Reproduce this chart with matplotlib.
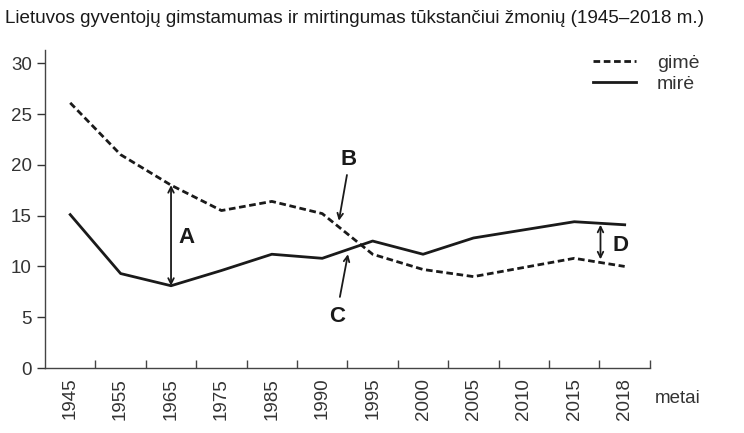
import numpy as np
import matplotlib.pyplot as plt

plt.rcParams['font.family'] = ['Liberation Sans', 'DejaVu Sans']

# Duomenys (tūkstančiui žmonių)
metai = ['1945', '1955', '1965', '1975', '1985', '1990', '1995',
         '2000', '2005', '2010', '2015', '2018']
gime = [26.1, 21.0, 18.0, 15.5, 16.4, 15.2, 11.2, 9.7, 9.0, 9.9, 10.8, 10.0]
mire = [15.1, 9.3, 8.1, 9.6, 11.2, 10.8, 12.5, 11.2, 12.8, 13.6, 14.4, 14.1]

spalva = '#1a1a1a'
x = np.arange(len(metai))

fig = plt.figure(figsize=(7.44, 4.33), dpi=100)
ax = fig.add_axes([0.0605, 0.150, 0.813, 0.7345])

ax.plot(x, gime, color=spalva, lw=2.0, ls=(0, (2.4, 1.3)), label='gimė')
ax.plot(x, mire, color=spalva, lw=2.0, ls='-', label='mirė')

ax.set_xlim(-0.5, len(metai) - 0.5)
ax.set_ylim(0, 31.3)
ax.set_yticks([0, 5, 10, 15, 20, 25, 30])

ax.set_xticks(x)
ax.set_xticklabels(metai, rotation=90)
ax.set_xticks(np.arange(0.5, len(metai), 1.0), minor=True)
ax.tick_params(axis='x', which='major', length=0, pad=7, labelsize=13.5, colors='#333333')
ax.tick_params(axis='x', which='minor', direction='in', length=6, width=1, color='#444444')
ax.tick_params(axis='y', direction='out', length=6, width=1, labelsize=13.5, colors='#333333')

for s in ['top', 'right']:
    ax.spines[s].set_visible(False)
for s in ['left', 'bottom']:
    ax.spines[s].set_color('#444444')
    ax.spines[s].set_linewidth(1)

# Rodyklės ir raidės
dvi = dict(arrowstyle='<->', color=spalva, lw=1.3, shrinkA=0, shrinkB=0)
ax.annotate('', xy=(2, gime[2]), xytext=(2, mire[2]), arrowprops=dvi)
ax.text(2.3, 12.8, 'A', fontsize=16, fontweight='bold', ha='center', va='center', color=spalva)

ax.annotate('', xy=(5.33, 14.5), xytext=(5.49, 19.0),
            arrowprops=dict(arrowstyle='->', color=spalva, lw=1.3, shrinkA=0, shrinkB=0))
ax.text(5.52, 20.5, 'B', fontsize=16, fontweight='bold', ha='center', va='center', color=spalva)

ax.annotate('', xy=(5.51, 11.2), xytext=(5.35, 7.0),
            arrowprops=dict(arrowstyle='->', color=spalva, lw=1.3, shrinkA=0, shrinkB=0))
ax.text(5.3, 5.1, 'C', fontsize=16, fontweight='bold', ha='center', va='center', color=spalva)

ax.annotate('', xy=(10.52, 14.1), xytext=(10.52, 10.7), arrowprops=dvi)
ax.text(10.92, 12.1, 'D', fontsize=16, fontweight='bold', ha='center', va='center', color=spalva)

leg = ax.legend(loc='upper left', bbox_to_anchor=(0.893, 1.01), frameon=False,
                fontsize=14, handlelength=2.2, labelspacing=0.15, borderaxespad=0,
                handletextpad=1.1)
for t in leg.get_texts():
    t.set_color('#333333')

fig.text(0.88, 0.08, 'metai', fontsize=13.5, color='#333333', ha='left', va='center')
fig.text(0.007, 0.958, 'Lietuvos gyventojų gimstamumas ir mirtingumas tūkstančiui žmonių (1945–2018 m.)',
         fontsize=13.6, color=spalva, ha='left', va='center')

fig.savefig('out.png', dpi=100)
